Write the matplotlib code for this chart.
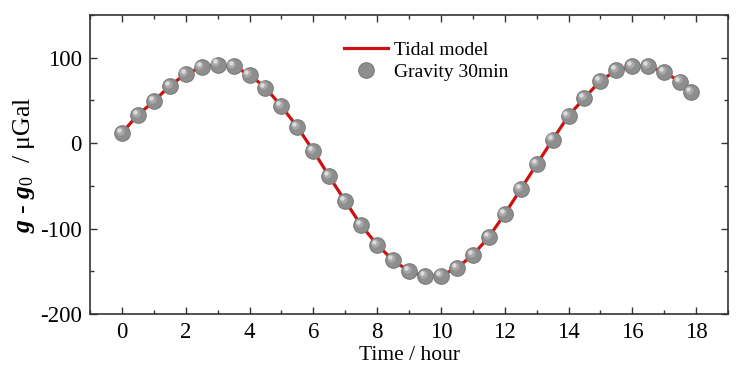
import matplotlib
matplotlib.use("Agg")
import matplotlib.pyplot as plt
import matplotlib.transforms as mtransforms
from matplotlib.ticker import MultipleLocator

plt.rcParams['font.family'] = ['Liberation Serif', 'DejaVu Serif']
plt.rcParams['mathtext.fontset'] = 'custom'
plt.rcParams['mathtext.rm'] = 'Liberation Serif'
plt.rcParams['mathtext.it'] = 'Liberation Serif:italic'
plt.rcParams['mathtext.bf'] = 'Liberation Serif:italic:bold'
plt.rcParams['axes.unicode_minus'] = False

time_h = [0, 0.5, 1, 1.5, 2, 2.5, 3, 3.5, 4, 4.5, 5, 5.5, 6, 6.5, 7, 7.5, 8, 8.5,
          9, 9.5, 10, 10.5, 11, 11.5, 12, 12.5, 13, 13.5, 14, 14.5, 15, 15.5, 16,
          16.5, 17, 17.5, 17.85]
gravity = [12, 33, 49, 67, 81, 89, 92, 90, 80, 65, 43, 19, -9, -39, -68, -96, -119,
           -137, -150, -156, -155, -146, -131, -110, -83, -54, -25, 4, 32, 53, 73,
           85, 90, 90, 83, 72, 60]
model_t = time_h
model_g = gravity

fig = plt.figure(figsize=(7.5, 3.74), dpi=100)
ax = fig.add_axes([0.12, 0.1604, 0.8507, 0.7996])

ax.plot(model_t, model_g, color='#cc1111', lw=2.3, label='Tidal model', zorder=2)
ax.plot(time_h, gravity, ls='none', marker='o', ms=11.2, mfc='#8e8e8e', mec='#7c7c7c',
        mew=0.8, label='Gravity 30min', zorder=3)
hl = mtransforms.offset_copy(ax.transData, fig=fig, x=-1.6, y=1.6, units='points')
ax.plot(time_h, gravity, ls='none', marker='o', ms=6, mfc='#a8a8a8', mec='none',
        transform=hl, zorder=4)
hl2 = mtransforms.offset_copy(ax.transData, fig=fig, x=-2.2, y=2.2, units='points')
ax.plot(time_h, gravity, ls='none', marker='o', ms=3.2, mfc='#dcdcdc', mec='none',
        transform=hl2, zorder=5)

ax.set_xlim(-1, 19)
ax.set_ylim(-200, 150)
ax.xaxis.set_major_locator(MultipleLocator(2))
ax.xaxis.set_minor_locator(MultipleLocator(1))
ax.yaxis.set_major_locator(MultipleLocator(100))
ax.yaxis.set_minor_locator(MultipleLocator(50))
ax.tick_params(which='both', direction='in', top=True, right=True, labelsize=16.5,
               width=1.0, color='#333333')
ax.tick_params(which='major', length=5, pad=6)
ax.tick_params(which='minor', length=3)
for s in ax.spines.values():
    s.set_linewidth(1.2)
    s.set_color('#333333')

ax.set_xlabel('Time / hour', fontsize=15.5, labelpad=2)
ax.set_ylabel(r'$\mathbf{g}$ - $\mathbf{g}_0$  / μGal', fontsize=18.5, labelpad=2)

leg = ax.legend(loc='upper left', bbox_to_anchor=(0.37, 0.97), frameon=False,
                fontsize=14, handlelength=2.3, handletextpad=0.3, labelspacing=0.2)

fig.savefig('out.png', dpi=100)
